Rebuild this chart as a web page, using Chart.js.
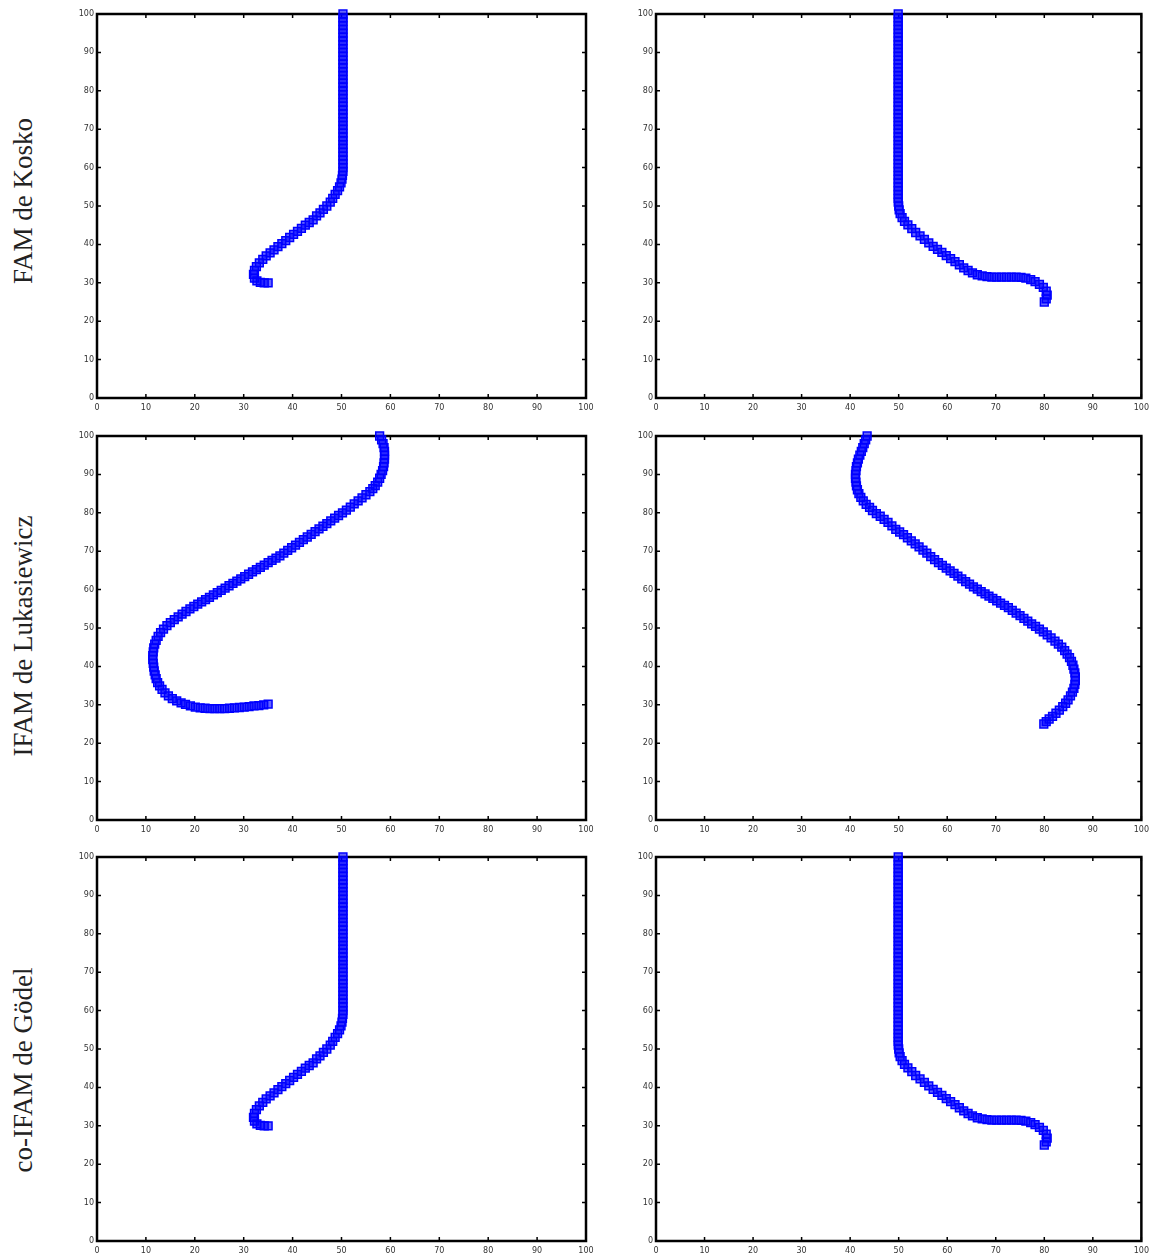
<!DOCTYPE html>
<html>
<head>
<meta charset="utf-8">
<script src="https://cdn.jsdelivr.net/npm/chart.js@4/dist/chart.umd.min.js"></script>
<style>
  html, body { margin:0; padding:0; background:#fff; overflow:hidden; }
  body { width:1154px; height:1258px; position:relative; }
  canvas { position:absolute; }
  .rowlabel {
    position:absolute; left:23px; white-space:nowrap;
    font-family:'Liberation Serif','Times New Roman',serif; font-size:27px; color:#222;
    transform: translate(-50%,-50%) rotate(-90deg);
  }
</style>
</head>
<body>
<div class="rowlabel" style="top:201px">FAM de Kosko</div>
<div class="rowlabel" style="top:636px">IFAM de Lukasiewicz</div>
<div class="rowlabel" style="top:1070px">co-IFAM de Gödel</div>
<canvas id="c0" width="540" height="420" style="left:60px;top:0px"></canvas>
<canvas id="c1" width="539" height="420" style="left:615px;top:0px"></canvas>
<canvas id="c2" width="540" height="420" style="left:60px;top:422px"></canvas>
<canvas id="c3" width="539" height="420" style="left:615px;top:422px"></canvas>
<canvas id="c4" width="540" height="420" style="left:60px;top:843px"></canvas>
<canvas id="c5" width="539" height="420" style="left:615px;top:843px"></canvas>
<script>
const rowTitles = ['FAM de Kosko', 'IFAM de Lukasiewicz', 'co-IFAM de Gödel'];
const tickValues = [0, 10, 20, 30, 40, 50, 60, 70, 80, 90, 100];

// FAM de Kosko, left (start 50,100 -> ends 35,30)
const famKoskoLeft = [
 [50.3,100],[50.3,99],[50.3,98],[50.3,97],[50.3,96],[50.3,95],[50.3,94],[50.3,93],[50.3,92],[50.3,91],
 [50.3,90],[50.3,89],[50.3,88],[50.3,87],[50.3,86],[50.3,85],[50.3,84],[50.3,83],[50.3,82],[50.3,81],
 [50.3,80],[50.3,79],[50.3,78],[50.3,77],[50.3,76],[50.3,75],[50.3,74],[50.3,73],[50.3,72],[50.3,71],
 [50.3,70],[50.3,69],[50.3,68],[50.3,67],[50.3,66],[50.3,65],[50.3,64],[50.3,63],[50.3,62],[50.3,61],
 [50.3,60],[50.3,59],[50.2,58],[50.1,57],[49.9,56],[49.6,55],[49.2,54],[48.7,53],[48.2,52],[47.7,51],
 [47,50],[46.3,49.1],[45.6,48.2],[44.9,47.4],[44.2,46.4],[43.4,45.7],[42.6,45],[41.8,44.2],[41,43.4],
 [40.2,42.6],[39.4,41.8],[38.6,41],[37.8,40.2],[37,39.4],[36.2,38.6],[35.4,37.8],[34.6,37],[33.9,36.1],
 [33.2,35.2],[32.6,34.2],[32.2,33.2],[32,32.2],[32.2,31.2],[32.7,30.5],[33.4,30.1],[34.2,30],[35,30]
];
// FAM de Kosko, right (start 50,100 -> ends 80,25)
const famKoskoRight = [
 [49.9,100],[49.9,99],[49.9,98],[49.9,97],[49.9,96],[49.9,95],[49.9,94],[49.9,93],[49.9,92],[49.9,91],
 [49.9,90],[49.9,89],[49.9,88],[49.9,87],[49.9,86],[49.9,85],[49.9,84],[49.9,83],[49.9,82],[49.9,81],
 [49.9,80],[49.9,79],[49.9,78],[49.9,77],[49.9,76],[49.9,75],[49.9,74],[49.9,73],[49.9,72],[49.9,71],
 [49.9,70],[49.9,69],[49.9,68],[49.9,67],[49.9,66],[49.9,65],[49.9,64],[49.9,63],[49.9,62],[49.9,61],
 [49.9,60],[49.9,59],[49.9,58],[49.9,57],[49.9,56],[49.9,55],[49.9,54],[49.9,53],[49.9,52],[49.9,51],
 [50,50],[50.1,49],[50.3,48],[50.7,47],[51.2,46],[51.9,45.1],[52.7,44.1],[53.5,43.1],[54.4,42.2],
 [55.3,41.3],[56.2,40.4],[57.1,39.5],[58,38.7],[58.9,37.9],[59.8,37.1],[60.7,36.3],[61.6,35.5],
 [62.5,34.7],[63.4,33.9],[64.3,33.2],[65.2,32.6],[66.2,32.1],[67.2,31.8],[68.2,31.6],[69.2,31.5],
 [70.2,31.5],[71.2,31.5],[72.2,31.5],[73.2,31.5],[74.2,31.5],[75.2,31.4],[76.2,31.2],[77.2,30.8],
 [78.1,30.3],[79,29.6],[79.8,28.8],[80.4,27.8],[80.6,26.8],[80.4,25.8],[80,25]
];
// IFAM de Lukasiewicz, left (start 57.8,100 -> ends 35,30)
const ifamLukLeft = [
 [57.8,100],[58.2,99],[58.5,98],[58.7,97],[58.8,96],[58.8,95],[58.8,94],[58.7,93],[58.6,92],[58.4,91],
 [58.1,90],[57.8,89],[57.4,88],[56.9,87.1],[56.4,86.3],[55.8,85.5],[55,84.7],[54.2,83.9],[53.4,83.1],
 [52.6,82.3],[51.8,81.5],[51,80.7],[50.2,80],[49.4,79.3],[48.6,78.6],[47.8,77.9],[47,77.2],[46.2,76.5],
 [45.4,75.8],[44.6,75.1],[43.8,74.4],[43,73.7],[42.2,73],[41.4,72.3],[40.6,71.6],[39.8,70.9],[39,70.2],
 [38.2,69.5],[37.4,68.8],[36.6,68.2],[35.8,67.6],[35,67],[34.2,66.4],[33.4,65.8],[32.6,65.2],[31.8,64.6],
 [31,64],[30.2,63.4],[29.4,62.8],[28.6,62.2],[27.8,61.6],[27,61],[26.2,60.4],[25.4,59.8],[24.6,59.2],
 [23.8,58.6],[23,58],[22.2,57.4],[21.4,56.8],[20.6,56.2],[19.8,55.6],[19,55],[18.2,54.3],[17.4,53.6],
 [16.6,52.9],[15.8,52.2],[15,51.4],[14.3,50.6],[13.6,49.7],[13,48.8],[12.5,47.8],[12.1,46.8],[11.8,45.8],
 [11.6,44.8],[11.5,43.8],[11.4,42.8],[11.4,41.8],[11.5,40.8],[11.6,39.8],[11.7,38.8],[11.9,37.8],
 [12.1,36.8],[12.4,35.8],[12.8,34.9],[13.3,34],[13.9,33.1],[14.6,32.3],[15.4,31.6],[16.3,31],[17.2,30.5],
 [18.1,30.1],[19.1,29.7],[20.1,29.4],[21.1,29.2],[22.1,29.1],[23.1,29],[24.1,29],[25.1,29],[26.1,29],
 [27.1,29.1],[28.1,29.2],[29.1,29.3],[30.1,29.4],[31.1,29.5],[32.1,29.7],[33.1,29.8],[34.1,30],[35,30.2]
];
// IFAM de Lukasiewicz, right (start 43.5,100 -> ends 80,25)
const ifamLukRight = [
 [43.5,100],[43.2,99],[42.9,98],[42.6,97],[42.3,96],[42,95],[41.7,94],[41.5,93],[41.3,92],[41.2,91],
 [41.1,90],[41.1,89],[41.2,88],[41.3,87],[41.5,86],[41.8,85],[42.2,84],[42.7,83.1],[43.3,82.2],[44,81.4],
 [44.6,80.6],[45.4,79.8],[46.2,79.1],[47,78.3],[47.8,77.5],[48.6,76.6],[49.4,75.7],[50.2,75],[51,74.3],
 [51.8,73.5],[52.6,72.7],[53.4,71.9],[54.2,71.1],[55,70.3],[55.8,69.5],[56.6,68.6],[57.4,67.8],[58.2,67],
 [59,66.3],[59.8,65.6],[60.6,64.9],[61.4,64.2],[62.2,63.5],[63,62.8],[63.8,62.1],[64.6,61.4],[65.4,60.7],
 [66.2,60.1],[67,59.5],[67.8,58.9],[68.6,58.3],[69.4,57.7],[70.2,57.1],[71,56.5],[71.8,55.9],[72.6,55.3],
 [73.4,54.6],[74.2,53.9],[75,53.2],[75.8,52.5],[76.6,51.8],[77.4,51.1],[78.2,50.4],[79,49.7],[79.8,49],
 [80.6,48.2],[81.4,47.4],[82.2,46.6],[82.9,45.8],[83.6,45],[84.2,44.1],[84.7,43.2],[85.2,42.3],[85.6,41.3],
 [85.9,40.3],[86.1,39.3],[86.3,38.3],[86.4,37.3],[86.4,36.3],[86.3,35.3],[86.1,34.3],[85.8,33.3],
 [85.4,32.3],[84.9,31.3],[84.4,30.4],[83.8,29.5],[83.1,28.6],[82.4,27.8],[81.7,27],[81,26.3],[80.4,25.6],
 [79.9,25]
];
// co-IFAM de Gödel: same trajectories as FAM de Kosko in the figure
const coIfamGodelLeft = famKoskoLeft;
const coIfamGodelRight = famKoskoRight;

const panels = [
  { id:'c0', data:famKoskoLeft, yw:37 },
  { id:'c1', data:famKoskoRight, yw:41 },
  { id:'c2', data:ifamLukLeft, yw:37 },
  { id:'c3', data:ifamLukRight, yw:41 },
  { id:'c4', data:coIfamGodelLeft, yw:37 },
  { id:'c5', data:coIfamGodelRight, yw:41 }
];

const framePlugin = {
  id: 'frame',
  beforeDatasetsDraw(chart) {
    const { ctx, chartArea: { left, right, top, bottom }, scales: { x, y } } = chart;
    ctx.save();
    ctx.strokeStyle = '#000';
    ctx.lineWidth = 1.5;
    ctx.beginPath();
    x.ticks.forEach(t => {
      const px = x.getPixelForValue(t.value);
      ctx.moveTo(px, bottom); ctx.lineTo(px, bottom - 4);
      ctx.moveTo(px, top); ctx.lineTo(px, top + 4);
    });
    y.ticks.forEach(t => {
      const py = y.getPixelForValue(t.value);
      ctx.moveTo(left, py); ctx.lineTo(left + 4, py);
      ctx.moveTo(right, py); ctx.lineTo(right - 4, py);
    });
    ctx.stroke();
    ctx.lineWidth = 2.5;
    ctx.strokeRect(left, top, right - left, bottom - top);
    ctx.restore();
  }
};

function axis(extra) {
  return Object.assign({
    type: 'linear', min: 0, max: 100,
    afterBuildTicks: s => { s.ticks = tickValues.map(v => ({ value: v })); },
    grid: { display: false, drawTicks: false },
    border: { display: false }
  }, extra);
}

panels.forEach(p => {
  const rightPad = p.yw === 37 ? 14 : 11;
  new Chart(document.getElementById(p.id), {
    type: 'scatter',
    data: {
      datasets: [{
        data: p.data.map(([x, y]) => ({ x, y })),
        pointStyle: 'rect',
        pointRadius: 5.5,
        pointBorderWidth: 1.5,
        borderColor: '#0000ff',
        backgroundColor: 'rgba(0,0,255,0.6)',
        showLine: false,
        clip: false
      }]
    },
    options: {
      responsive: false,
      animation: false,
      devicePixelRatio: 1,
      layout: { padding: { top: 14, right: rightPad, bottom: 0, left: 0 } },
      plugins: { legend: { display: false }, tooltip: { enabled: false } },
      scales: {
        x: axis({
          ticks: { font: { size: 8, family: 'DejaVu Sans' }, color: '#333', padding: 5, maxRotation: 0, autoSkip: false },
          afterFit: s => { s.height = 22; }
        }),
        y: axis({
          ticks: { font: { size: 8, family: 'DejaVu Sans' }, color: '#333', padding: 3, autoSkip: false },
          afterFit: s => { s.width = p.yw; }
        })
      }
    },
    plugins: [framePlugin]
  });
});
</script>
</body>
</html>
